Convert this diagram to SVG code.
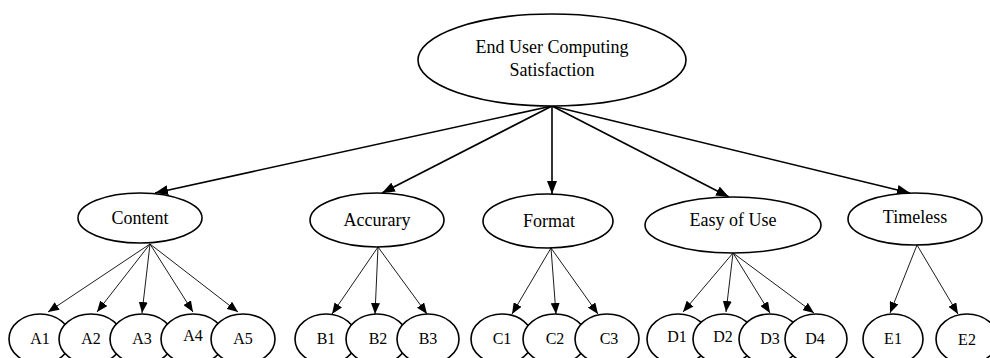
<svg xmlns="http://www.w3.org/2000/svg" width="990" height="358" viewBox="0 0 990 358">
<style>
.n{fill:#fff;stroke:#000;stroke-width:1.6}
.t{font-family:"Liberation Serif","Times New Roman",serif;font-size:18px;fill:#000;text-anchor:middle}
.s{font-family:"Liberation Serif","Times New Roman",serif;font-size:16px;fill:#000;text-anchor:middle}
.m{stroke:#000;stroke-width:1.6;fill:none;marker-end:url(#big)}
.c{stroke:#000;stroke-width:0.9;fill:none;marker-end:url(#small)}
</style>
<defs>
<marker id="big" markerUnits="userSpaceOnUse" markerWidth="13" markerHeight="10" viewBox="0 0 13 10" refX="13" refY="5" orient="auto">
<path d="M0,0 L13,5 L0,10 Z" fill="#000"/>
</marker>
<marker id="small" markerUnits="userSpaceOnUse" markerWidth="11" markerHeight="9" viewBox="0 0 11 9" refX="11" refY="4.5" orient="auto">
<path d="M0,0 L11,4.5 L0,9 Z" fill="#000"/>
</marker>
</defs>
<g id="connectors">
<path class="m" d="M552,106 L155,193"/>
<path class="m" d="M552,106 L382,193"/>
<path class="m" d="M552,106 L552,194"/>
<path class="m" d="M552,106 L729,197"/>
<path class="m" d="M552,106 L910,193"/>
<path class="c" d="M150,244 L48,312"/>
<path class="c" d="M150,244 L97,312"/>
<path class="c" d="M150,244 L142,313"/>
<path class="c" d="M150,244 L193,312"/>
<path class="c" d="M150,244 L238,312"/>
<path class="c" d="M378,247 L332,314"/>
<path class="c" d="M378,247 L375,314"/>
<path class="c" d="M378,247 L427,314"/>
<path class="c" d="M551,248 L512,314"/>
<path class="c" d="M551,248 L556,314"/>
<path class="c" d="M551,248 L598,314"/>
<path class="c" d="M733,253 L683,312"/>
<path class="c" d="M733,253 L726,312"/>
<path class="c" d="M733,253 L770,313"/>
<path class="c" d="M733,253 L814,313"/>
<path class="c" d="M917,245 L890,313"/>
<path class="c" d="M917,245 L958,314"/>
</g>
<g id="root"><ellipse class="n" cx="552" cy="60" rx="134" ry="46"/><text class="t" x="552" y="53">End User Computing</text><text class="t" x="552" y="76">Satisfaction</text></g>
<g id="content"><ellipse class="n" cx="140" cy="218" rx="62" ry="25"/><text class="t" x="140" y="224">Content</text></g>
<g id="accurary"><ellipse class="n" cx="377" cy="220" rx="67" ry="27"/><text class="t" x="377" y="226">Accurary</text></g>
<g id="format"><ellipse class="n" cx="548" cy="221" rx="65" ry="27"/><text class="t" x="549" y="227">Format</text></g>
<g id="easy"><ellipse class="n" cx="733" cy="225" rx="88" ry="28"/><text class="t" x="733" y="226">Easy of Use</text></g>
<g id="timeless"><ellipse class="n" cx="915" cy="219" rx="67" ry="26"/><text class="t" x="915" y="223">Timeless</text></g>
<g id="A1"><ellipse class="n" cx="40" cy="339" rx="31" ry="25"/><text class="s" x="40" y="344">A1</text></g>
<g id="A2"><ellipse class="n" cx="91" cy="339" rx="32" ry="25"/><text class="s" x="91" y="344">A2</text></g>
<g id="A3"><ellipse class="n" cx="142" cy="339" rx="32" ry="25"/><text class="s" x="142" y="344">A3</text></g>
<g id="A4"><ellipse class="n" cx="193" cy="339" rx="32" ry="25"/><text class="s" x="193" y="341">A4</text></g>
<g id="A5"><ellipse class="n" cx="243" cy="339" rx="32" ry="25"/><text class="s" x="243" y="344">A5</text></g>
<g id="B1"><ellipse class="n" cx="326" cy="339" rx="31" ry="25"/><text class="s" x="326" y="344">B1</text></g>
<g id="B2"><ellipse class="n" cx="377" cy="339" rx="31" ry="25"/><text class="s" x="378" y="344">B2</text></g>
<g id="B3"><ellipse class="n" cx="428" cy="339" rx="31" ry="25"/><text class="s" x="428" y="344">B3</text></g>
<g id="C1"><ellipse class="n" cx="502" cy="339" rx="31" ry="25"/><text class="s" x="502" y="344">C1</text></g>
<g id="C2"><ellipse class="n" cx="555" cy="339" rx="32" ry="25"/><text class="s" x="555" y="344">C2</text></g>
<g id="C3"><ellipse class="n" cx="607" cy="339" rx="32" ry="25"/><text class="s" x="609" y="344">C3</text></g>
<g id="D1"><ellipse class="n" cx="678" cy="339" rx="31" ry="25"/><text class="s" x="677" y="342">D1</text></g>
<g id="D2"><ellipse class="n" cx="724" cy="339" rx="31" ry="25"/><text class="s" x="723" y="342">D2</text></g>
<g id="D3"><ellipse class="n" cx="770" cy="339" rx="31" ry="25"/><text class="s" x="770" y="344">D3</text></g>
<g id="D4"><ellipse class="n" cx="816" cy="339" rx="31" ry="25"/><text class="s" x="815" y="344">D4</text></g>
<g id="E1"><ellipse class="n" cx="893" cy="339" rx="30" ry="25"/><text class="s" x="893" y="344">E1</text></g>
<g id="E2"><ellipse class="n" cx="967" cy="339" rx="31" ry="25"/><text class="s" x="967" y="345">E2</text></g>
</svg>
